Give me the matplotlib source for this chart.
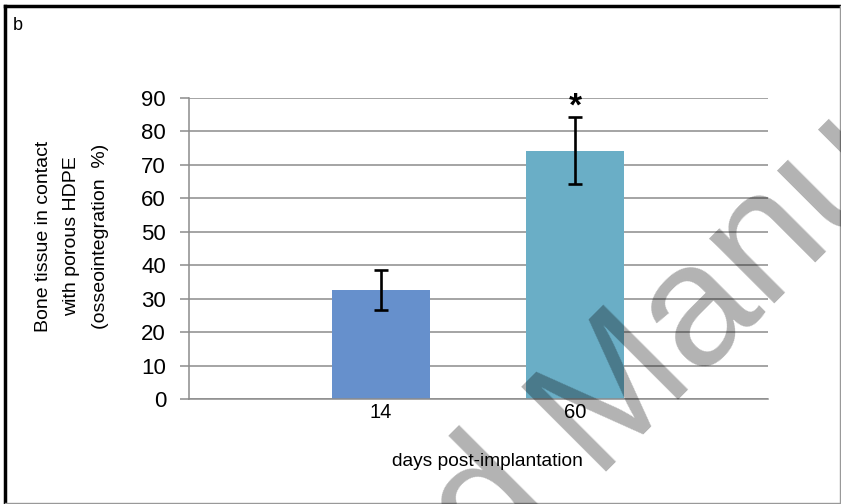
import numpy as np
import matplotlib.pyplot as plt
from matplotlib.lines import Line2D

plt.rcParams['font.family'] = ['Liberation Sans', 'DejaVu Sans']

# data
days = ["14", "60"]
osseo = [32.5, 74.2]
osseo_err = [6.0, 10.0]
bar_colors = ["#6690cc", "#6aaec6"]
y_ticks = list(range(0, 100, 10))

W, H = 841, 504
fig = plt.figure(figsize=(W / 100, H / 100), dpi=100)

# plot area in pixels: x 189..768, y 98..399
ax = fig.add_axes([189 / W, (H - 399) / H, (768 - 189) / W, (399 - 98) / H])
x = np.arange(len(days))
ax.bar(x, osseo, width=0.505, color=bar_colors, zorder=2)
ax.errorbar(x, osseo, yerr=osseo_err, fmt="none", ecolor="black",
            elinewidth=1.9, capsize=5, capthick=1.9, zorder=3)
ax.text(1, 87.3, "*", ha="center", va="center", fontsize=24,
        fontweight="bold", clip_on=False)

ax.set_xlim(-0.99, 1.995)
ax.set_ylim(0, 90)
ax.set_yticks(y_ticks)
ax.set_xticks(x)
ax.set_xticklabels(days, fontsize=14.5)
ax.tick_params(axis="y", labelsize=16, length=6.5, width=1.1,
               color="#8c8c8c", pad=10)
ax.tick_params(axis="x", length=0, pad=3)
ax.yaxis.grid(True, color="#8c8c8c", linewidth=1.1, zorder=1)
ax.set_axisbelow(True)
for s in ["top", "right"]:
    ax.spines[s].set_visible(False)
ax.spines["left"].set_color("#8c8c8c")
ax.spines["left"].set_linewidth(1.1)
ax.spines["bottom"].set_color("#8c8c8c")
ax.spines["bottom"].set_linewidth(1.1)

fig.text(72 / W, 1 - 236 / H,
         "Bone tissue in contact\nwith porous HDPE\n(osseointegration  %)",
         rotation=90, ha="center", va="center", fontsize=14, linespacing=1.85)
fig.text(487 / W, 1 - 462 / H, "days post-implantation",
         ha="center", va="center", fontsize=13.8)
fig.text(13 / W, 1 - 25 / H, "b", ha="left", va="center", fontsize=13)

# frame around the panel
fig.add_artist(Line2D([5 / W, 5 / W], [0, 1 - 6 / H], color="black", lw=2.5))
fig.add_artist(Line2D([5 / W, 1], [1 - 6 / H, 1 - 6 / H], color="black", lw=2.5))
fig.add_artist(Line2D([840 / W, 840 / W], [0, 1 - 6 / H], color="#999999", lw=1))
fig.add_artist(Line2D([5 / W, 1], [1.5 / H, 1.5 / H], color="#999999", lw=1))

# journal watermark
wm = dict(rotation=45, rotation_mode="anchor", va="baseline", fontsize=125,
          color="black", alpha=0.3, zorder=10)
fig.text(592 / W, 1 - 472 / H, "Manuscript", ha="left", **wm)
fig.text(558 / W, 1 - 506 / H, "Accepted", ha="right", **wm)

fig.savefig("out.png", dpi=100)
